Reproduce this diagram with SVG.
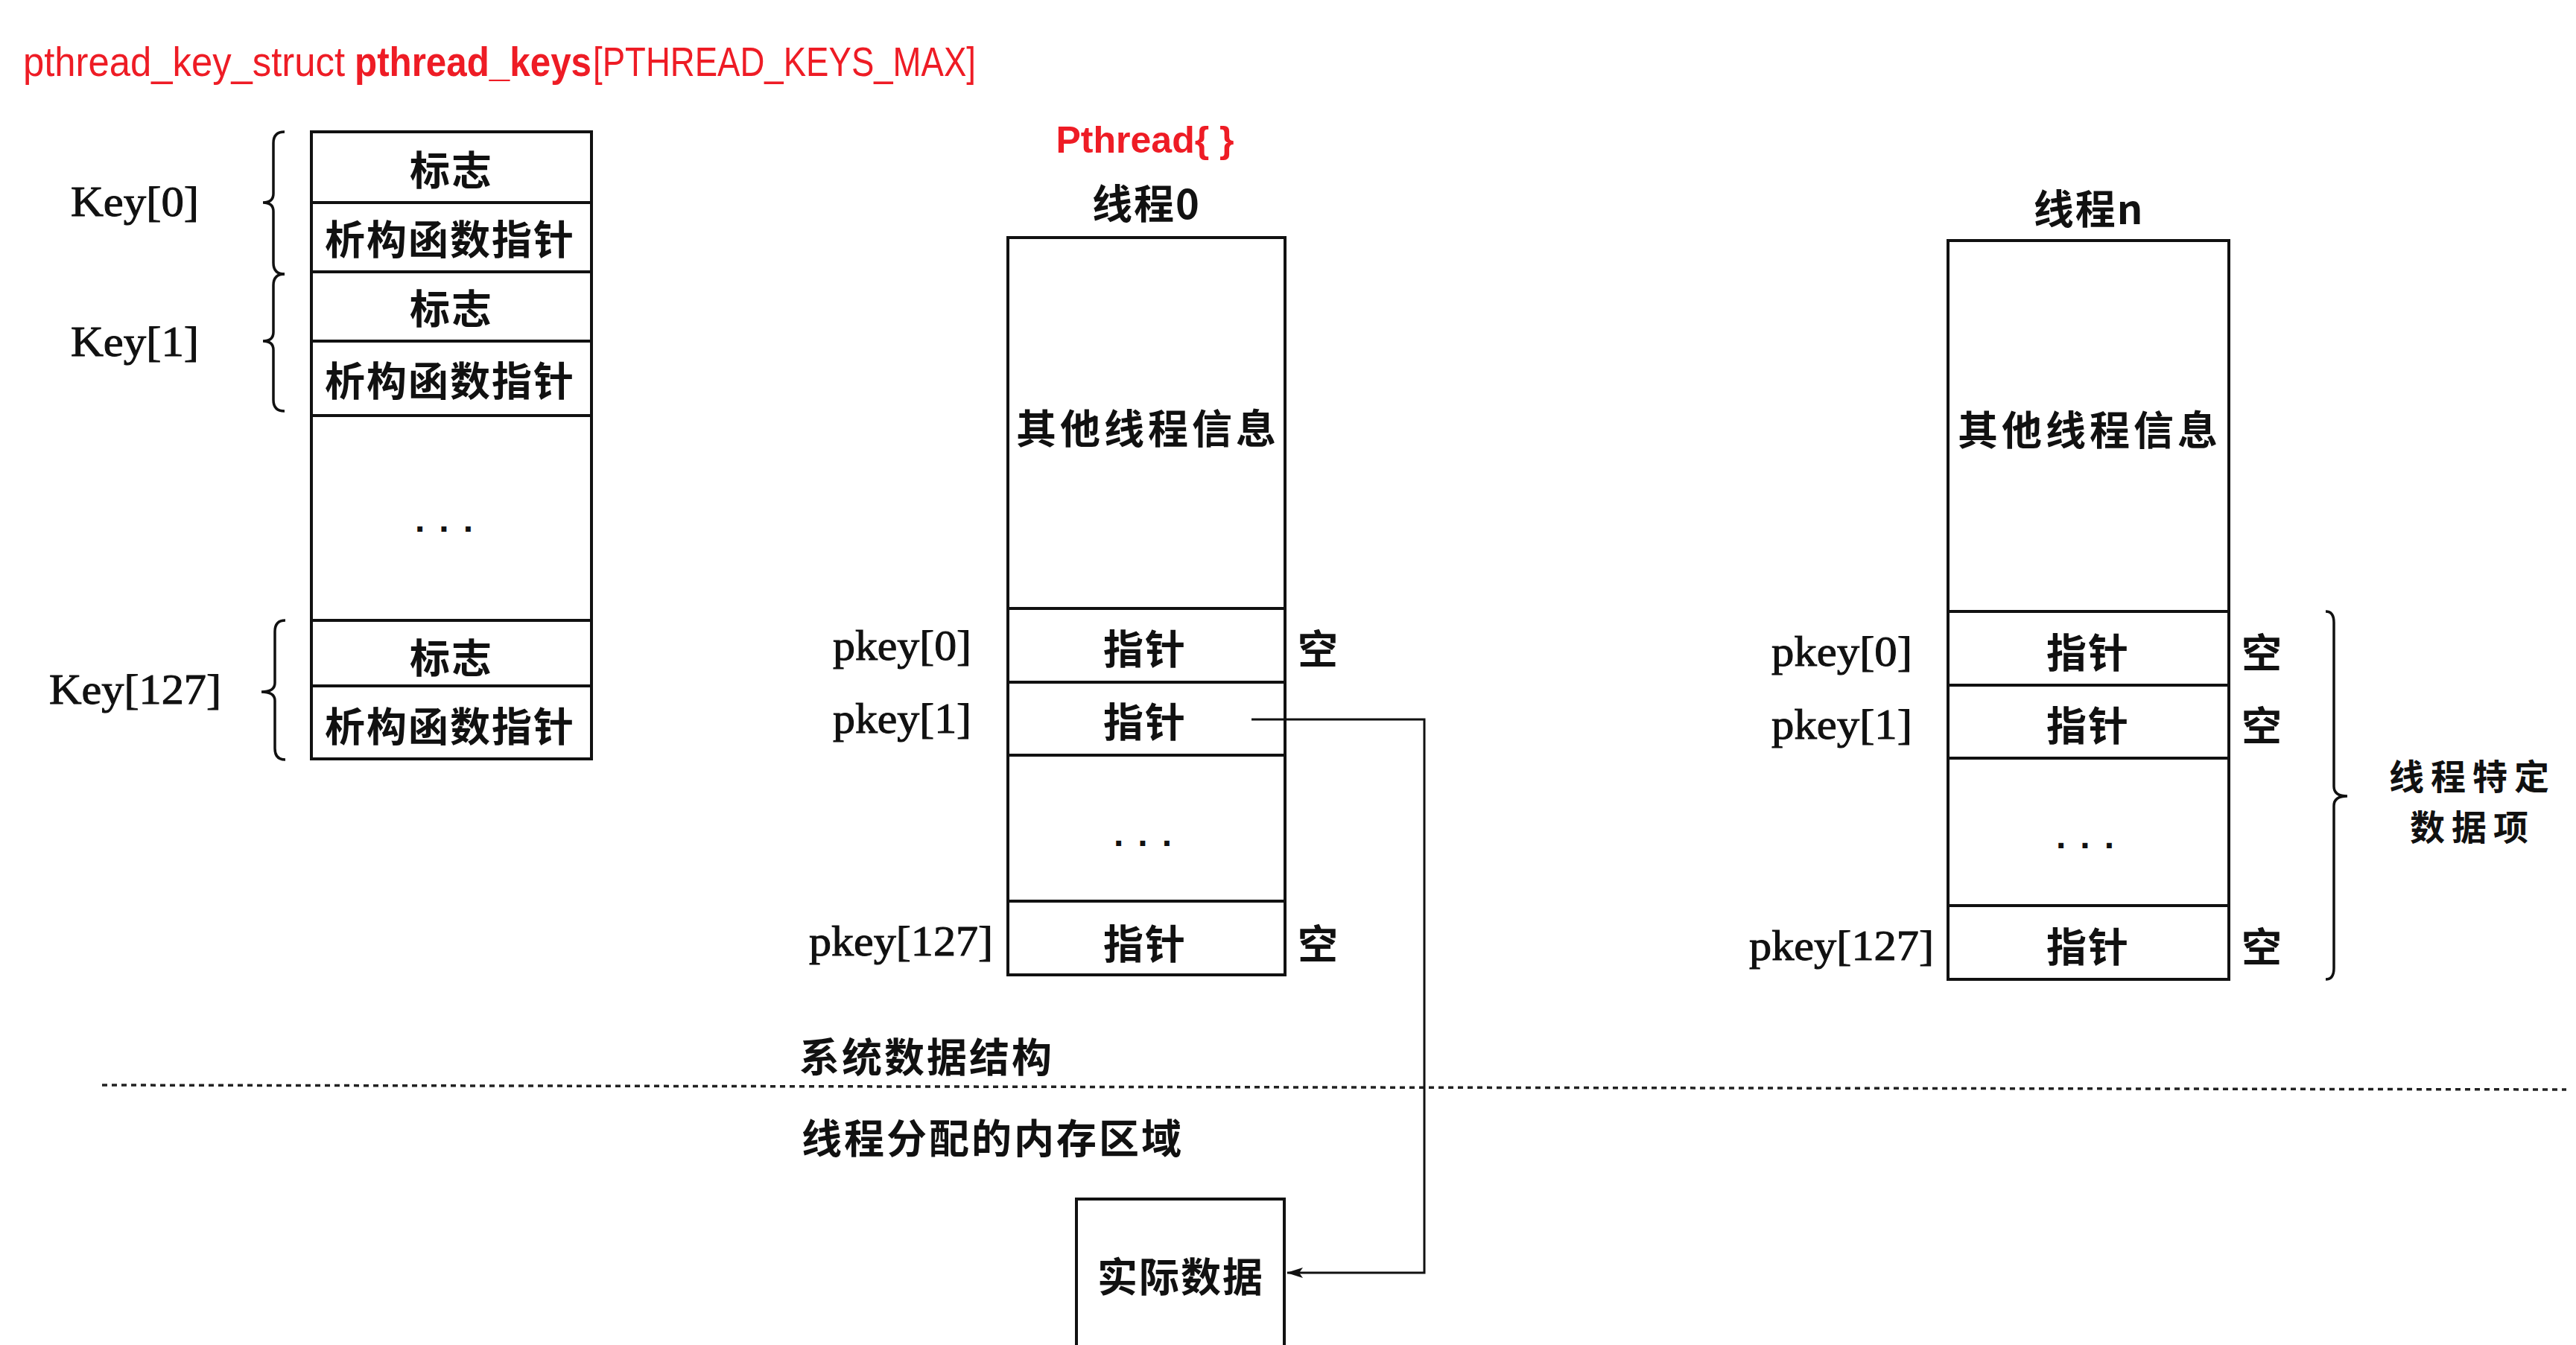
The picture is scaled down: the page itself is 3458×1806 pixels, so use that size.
<svg xmlns="http://www.w3.org/2000/svg" width="3458" height="1806" viewBox="0 0 3458 1806">
<style>
.bg{fill:#ffffff}
.box{fill:none;stroke:#111;stroke-width:4}
.sep{stroke:#111;stroke-width:4}
.cjk{font-family:"Noto Sans CJK SC","Noto Sans CJK TC",sans-serif;font-weight:700;font-size:54px;fill:#111;dominant-baseline:central;text-anchor:middle;letter-spacing:2px}
.cjkl{font-family:"Noto Sans CJK SC","Noto Sans CJK TC",sans-serif;font-weight:700;font-size:54px;fill:#111;dominant-baseline:central;text-anchor:start;letter-spacing:3px}
.side{font-family:"Noto Sans CJK SC","Noto Sans CJK TC",sans-serif;font-weight:700;font-size:47px;fill:#111;dominant-baseline:central;text-anchor:middle;letter-spacing:9px}
.wide{letter-spacing:5px}
.ser{font-family:"Liberation Serif",serif;font-size:56px;fill:#111;stroke:#111;stroke-width:1}
.dots{font-family:"Liberation Sans",sans-serif;font-weight:700;font-size:48px;fill:#111;letter-spacing:19px}
.red{font-family:"Liberation Sans",sans-serif;font-size:55px;fill:#ee1c25}
.redb{font-family:"Liberation Sans",sans-serif;font-size:50px;font-weight:700;fill:#ee1c25;text-anchor:middle}
.brace{fill:none;stroke:#111;stroke-width:3.5}
.conn{fill:none;stroke:#111;stroke-width:3}
.dash{fill:none;stroke:#222;stroke-width:3.5;stroke-dasharray:7 6}
</style>
<defs>
<marker id="arr" markerWidth="22" markerHeight="14" refX="21" refY="7" orient="auto" markerUnits="userSpaceOnUse">
<path d="M0,0 L22,7 L0,14 L5,7 Z" fill="#111"/>
</marker>
</defs>
<rect class="bg" x="0" y="0" width="3458" height="1806"/>

<g id="title">
<text class="red" x="31" y="102" textLength="432" lengthAdjust="spacingAndGlyphs">pthread_key_struct</text>
<text class="red" x="476" y="102" font-weight="700" textLength="318" lengthAdjust="spacingAndGlyphs">pthread_keys</text>
<text class="red" x="796" y="102" textLength="514" lengthAdjust="spacingAndGlyphs">[PTHREAD_KEYS_MAX]</text>
</g>

<g id="key-table">
<rect class="box" x="418" y="177" width="376" height="842"/>
<line class="sep" x1="418" y1="272" x2="794" y2="272"/>
<line class="sep" x1="418" y1="365" x2="794" y2="365"/>
<line class="sep" x1="418" y1="458" x2="794" y2="458"/>
<line class="sep" x1="418" y1="558" x2="794" y2="558"/>
<line class="sep" x1="418" y1="833" x2="794" y2="833"/>
<line class="sep" x1="418" y1="921" x2="794" y2="921"/>
<text class="cjk" x="606" y="225">标志</text>
<text class="cjk" x="604" y="318">析构函数指针</text>
<text class="cjk" x="606" y="411">标志</text>
<text class="cjk" x="604" y="508">析构函数指针</text>
<text class="dots" x="557" y="714">...</text>
<text class="cjk" x="606" y="880">标志</text>
<text class="cjk" x="604" y="972">析构函数指针</text>
</g>

<g id="key-labels">
<text class="ser" x="95" y="290" textLength="172" lengthAdjust="spacingAndGlyphs">Key[0]</text>
<text class="ser" x="95" y="478" textLength="172" lengthAdjust="spacingAndGlyphs">Key[1]</text>
<text class="ser" x="66" y="945" textLength="231" lengthAdjust="spacingAndGlyphs">Key[127]</text>
<path class="brace" d="M382,177 Q367,177 367,192 L367,260 Q367,272 353,272 Q367,272 367,284 L367,353 Q367,368 382,368"/>
<path class="brace" d="M382,368 Q367,368 367,383 L367,446 Q367,458 353,458 Q367,458 367,470 L367,537 Q367,552 382,552"/>
<path class="brace" d="M383,833 Q369,833 369,848 L369,917 Q369,929 351,929 Q369,929 369,941 L369,1005 Q369,1020 383,1020"/>
</g>

<g id="thread0">
<text class="redb" x="1537" y="205">Pthread{ }</text>
<text class="cjk" x="1539" y="270">线程0</text>
<rect class="box" x="1353" y="319" width="372" height="990"/>
<line class="sep" x1="1353" y1="817" x2="1725" y2="817"/>
<line class="sep" x1="1353" y1="916" x2="1725" y2="916"/>
<line class="sep" x1="1353" y1="1014" x2="1725" y2="1014"/>
<line class="sep" x1="1353" y1="1210" x2="1725" y2="1210"/>
<text class="cjk wide" x="1541" y="572">其他线程信息</text>
<text class="cjk" x="1537" y="868">指针</text>
<text class="cjk" x="1537" y="966">指针</text>
<text class="dots" x="1495" y="1136">...</text>
<text class="cjk" x="1537" y="1264">指针</text>
<text class="ser" x="1118" y="886" textLength="186" lengthAdjust="spacingAndGlyphs">pkey[0]</text>
<text class="ser" x="1118" y="984" textLength="186" lengthAdjust="spacingAndGlyphs">pkey[1]</text>
<text class="ser" x="1086" y="1283" textLength="247" lengthAdjust="spacingAndGlyphs">pkey[127]</text>
<text class="cjk" x="1770" y="868">空</text>
<text class="cjk" x="1770" y="1264">空</text>
</g>

<g id="threadn">
<text class="cjk" x="2804" y="277">线程n</text>
<rect class="box" x="2615" y="323" width="377" height="992"/>
<line class="sep" x1="2615" y1="821" x2="2992" y2="821"/>
<line class="sep" x1="2615" y1="920" x2="2992" y2="920"/>
<line class="sep" x1="2615" y1="1018" x2="2992" y2="1018"/>
<line class="sep" x1="2615" y1="1216" x2="2992" y2="1216"/>
<text class="cjk wide" x="2805" y="574">其他线程信息</text>
<text class="cjk" x="2803" y="873">指针</text>
<text class="cjk" x="2803" y="971">指针</text>
<text class="dots" x="2760" y="1139">...</text>
<text class="cjk" x="2803" y="1268">指针</text>
<text class="ser" x="2378" y="894" textLength="189" lengthAdjust="spacingAndGlyphs">pkey[0]</text>
<text class="ser" x="2378" y="992" textLength="189" lengthAdjust="spacingAndGlyphs">pkey[1]</text>
<text class="ser" x="2348" y="1289" textLength="248" lengthAdjust="spacingAndGlyphs">pkey[127]</text>
<text class="cjk" x="3037" y="873">空</text>
<text class="cjk" x="3037" y="971">空</text>
<text class="cjk" x="3037" y="1268">空</text>
<path class="brace" d="M3122,821 Q3133,821 3133,836 L3133,1056 Q3133,1069 3151,1069 Q3133,1069 3133,1082 L3133,1300 Q3133,1315 3122,1315"/>
<text class="side" x="3319" y="1039">线程特定</text>
<text class="side" x="3319" y="1107">数据项</text>
</g>

<g id="regions">
<text class="cjkl" x="1073" y="1416">系统数据结构</text>
<path class="dash" d="M137,1457 L3445,1463"/>
<text class="cjkl" x="1076" y="1525">线程分配的内存区域</text>
</g>

<g id="data">
<path class="box" d="M1445,1830 V1610 H1724 V1830"/>
<text class="cjk" x="1585" y="1711">实际数据</text>
</g>

<g id="connectors">
<path class="conn" d="M1680,966 H1912 V1709 H1728" marker-end="url(#arr)"/>
</g>
</svg>
